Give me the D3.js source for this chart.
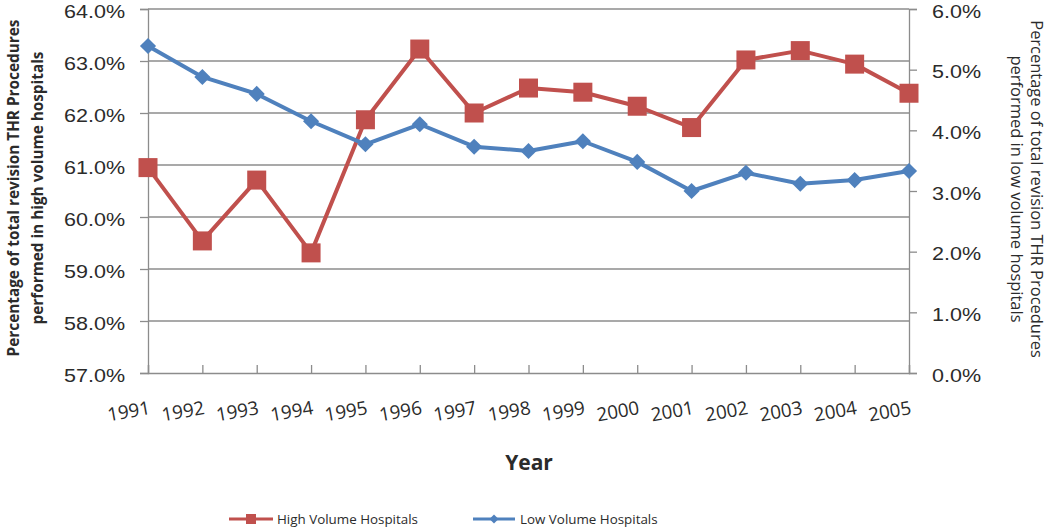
<!DOCTYPE html>
<html><head><meta charset="utf-8">
<script src="https://cdn.jsdelivr.net/npm/d3@7"></script>
<style>
html,body{margin:0;padding:0;background:#fff;}
svg{display:block;font-family:"Open Sans",sans-serif;}
</style></head>
<body>
<svg id="chart" width="1050" height="527"></svg>
<script>
const years = ["1991","1992","1993","1994","1995","1996","1997","1998","1999","2000","2001","2002","2003","2004","2005"];
const highVolume = [60.95,59.54,60.71,59.31,61.87,63.23,62.00,62.48,62.40,62.13,61.72,63.02,63.20,62.94,62.38];
const lowVolume  = [5.39,4.88,4.60,4.15,3.77,4.10,3.73,3.66,3.82,3.48,3.00,3.30,3.12,3.18,3.33];
const leftTicks = [57,58,59,60,61,62,63,64];
const rightTicks = [0,1,2,3,4,5,6];
const seriesNames = ["High Volume Hospitals","Low Volume Hospitals"];
const leftTitle = ["Percentage of total revision THR Procedures","performed in high volume hospitals"];
const rightTitle = ["Percentage of total revision THR Procedures","performed in low volume hospitals"];
const xTitle = "Year";

const RED = "#C0504D", BLUE = "#4F81BD", GRID = "#8c8c8c", TXT = "#2b2b2b";
const svg = d3.select("#chart");
const L = 148, R = 909, T = 9, B = 373;

const x = d3.scalePoint().domain(years).range([L, R]);
const yL = d3.scaleLinear().domain([57, 64]).range([B, T]);
const yR = d3.scaleLinear().domain([0, 6]).range([B, T]);

function measure(text, weight, size, family) {
  const t = svg.append("text").attr("font-size", size).attr("font-weight", weight)
    .attr("font-family", family || "Open Sans").text(text);
  const w = t.node().getComputedTextLength();
  t.remove();
  return w;
}
function fitSize(text, weight, target) { return 20 * target / measure(text, weight, 20); }

const TICKFONT = "Liberation Sans";
const tickFs = 18.7;
const tickSx = 61 / measure("64.0%", 400, tickFs, TICKFONT);
const xFs = fitSize("1991", 400, 43);
const titleFsL = fitSize(leftTitle[0], 700, 337);
const titleFsR = fitSize(rightTitle[0], 400, 338);
const legFs = fitSize(seriesNames[0], 400, 141);

// gridlines
svg.append("g").selectAll("line").data(leftTicks.slice(1)).join("line")
  .attr("x1", L).attr("x2", R).attr("y1", d => yL(d)).attr("y2", d => yL(d))
  .attr("stroke", GRID).attr("stroke-width", 1.3);

// left axis
const gL = svg.append("g").attr("transform", `translate(${L},0)`)
  .call(d3.axisLeft(yL).tickValues(leftTicks).tickFormat(d => d.toFixed(1) + "%").tickSize(8).tickPadding(15));
gL.select(".domain").attr("stroke", GRID).attr("stroke-width", 1.3);
gL.selectAll(".tick line").attr("stroke", GRID).attr("stroke-width", 1.3);
gL.selectAll(".tick text").attr("font-size", tickFs).attr("fill", TXT).attr("font-family", TICKFONT)
  .attr("dy", 8.2).attr("x", -23 / tickSx).attr("transform", `scale(${tickSx},1)`);

// right axis
const gR = svg.append("g").attr("transform", `translate(${R},0)`)
  .call(d3.axisRight(yR).tickValues(rightTicks).tickFormat(d => d.toFixed(1) + "%").tickSize(8).tickPadding(15));
gR.select(".domain").attr("stroke", GRID).attr("stroke-width", 1.3);
gR.selectAll(".tick line").attr("stroke", GRID).attr("stroke-width", 1.3);
gR.selectAll(".tick text").attr("font-size", tickFs).attr("fill", TXT).attr("font-family", TICKFONT)
  .attr("dy", 8.2).attr("x", 23 / tickSx).attr("transform", `scale(${tickSx},1)`);

// bottom axis
const gB = svg.append("g").attr("transform", `translate(0,${B})`)
  .call(d3.axisBottom(x).tickSize(-8).tickFormat(""));
gB.select(".domain").attr("stroke", GRID).attr("stroke-width", 1.3);
gB.selectAll(".tick line").attr("stroke", GRID).attr("stroke-width", 1.3);
svg.append("g").selectAll("text").data(years).join("text")
  .attr("transform", d => `translate(${x(d) + 3},${B + 41}) rotate(-10)`)
  .attr("text-anchor", "end").attr("font-size", xFs).attr("fill", TXT).text(d => d);

// lines
const lineH = d3.line().x((d, i) => x(years[i])).y(d => yL(d));
const lineLo = d3.line().x((d, i) => x(years[i])).y(d => yR(d));
svg.append("path").datum(highVolume).attr("d", lineH).attr("fill", "none")
  .attr("stroke", RED).attr("stroke-width", 4).attr("stroke-linejoin", "round");
svg.append("g").selectAll("rect").data(highVolume).join("rect")
  .attr("x", (d, i) => x(years[i]) - 9.5).attr("y", d => yL(d) - 9.5)
  .attr("width", 19).attr("height", 19).attr("fill", RED);

svg.append("path").datum(lowVolume).attr("d", lineLo).attr("fill", "none")
  .attr("stroke", BLUE).attr("stroke-width", 4).attr("stroke-linejoin", "round");
const diamond = d3.symbol().type(d3.symbolSquare).size(130);
svg.append("g").selectAll("path").data(lowVolume).join("path")
  .attr("d", diamond)
  .attr("transform", (d, i) => `translate(${x(years[i])},${yR(d)}) rotate(45)`)
  .attr("fill", BLUE);

// axis titles
const lt = svg.append("text").attr("transform", "translate(19,188) rotate(-90)")
  .attr("text-anchor", "middle").attr("font-weight", 700).attr("font-size", titleFsL).attr("fill", TXT);
lt.append("tspan").attr("x", 0).attr("y", 0).text(leftTitle[0]);
lt.append("tspan").attr("x", 0).attr("y", 24).text(leftTitle[1]);

const rt = svg.append("text").attr("transform", "translate(1031,189) rotate(90)")
  .attr("text-anchor", "middle").attr("font-size", titleFsR).attr("fill", TXT);
rt.append("tspan").attr("x", 0).attr("y", 0).text(rightTitle[0]);
rt.append("tspan").attr("x", 0).attr("y", 20).text(rightTitle[1]);

svg.append("text").attr("x", 529).attr("y", 470).attr("text-anchor", "middle")
  .attr("font-weight", 700).attr("font-size", 21).attr("fill", TXT).text(xTitle);

// legend
const leg = svg.append("g");
const legY = 519;
leg.append("line").attr("x1", 229).attr("x2", 273).attr("y1", legY).attr("y2", legY).attr("stroke", RED).attr("stroke-width", 3);
leg.append("rect").attr("x", 251 - 5).attr("y", legY - 5).attr("width", 10).attr("height", 10).attr("fill", RED);
leg.append("text").attr("x", 277).attr("y", legY).attr("dy", "0.35em").attr("font-size", legFs).attr("fill", TXT).text(seriesNames[0]);
leg.append("line").attr("x1", 473).attr("x2", 515).attr("y1", legY).attr("y2", legY).attr("stroke", BLUE).attr("stroke-width", 3);
leg.append("path").attr("d", d3.symbol().type(d3.symbolSquare).size(40)).attr("transform", `translate(494,${legY}) rotate(45)`).attr("fill", BLUE);
leg.append("text").attr("x", 520).attr("y", legY).attr("dy", "0.35em").attr("font-size", legFs).attr("fill", TXT).text(seriesNames[1]);
</script>
</body></html>
